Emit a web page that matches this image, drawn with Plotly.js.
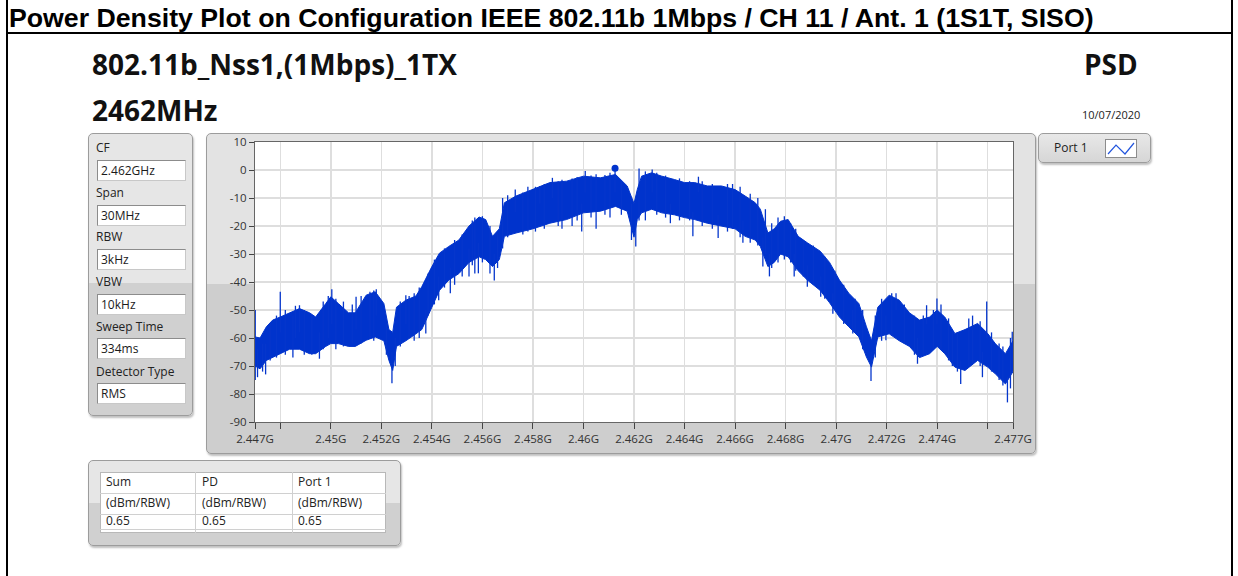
<!DOCTYPE html>
<html><head><meta charset="utf-8">
<script src="https://cdn.plot.ly/plotly-3.0.1.min.js"></script>
<style>
body{margin:0;width:1238px;height:576px;position:relative;overflow:hidden;background:#fff;font-family:"Open Sans",sans-serif;color:#1a1a1a;}
.a{position:absolute;}
.frame{position:absolute;border:1px solid #9c9c9c;border-radius:5px;box-shadow:1px 2px 2px rgba(0,0,0,0.25);}
.lbl{position:absolute;left:96px;font-size:12px;line-height:14px;color:#222;}
.box{position:absolute;left:97px;background:#fff;border:1px solid #8c8c8c;border-right-color:#c8c8c8;border-bottom-color:#c8c8c8;font-size:12px;line-height:19px;padding-left:3px;box-sizing:border-box;width:89px;height:21px;}
.cell{position:absolute;font-size:12px;line-height:14px;color:#222;}
.hl{position:absolute;height:1px;background:#d0d0d0;}
.vl{position:absolute;width:1px;background:#d0d0d0;}
.big{position:absolute;font-family:"Open Sans",sans-serif;font-weight:700;font-size:28px;line-height:32px;color:#111;white-space:nowrap;}
</style></head><body>
<!-- outer page border -->
<div class="a" style="left:6px;top:0;width:2px;height:576px;background:#000"></div>
<div class="a" style="left:1231px;top:0;width:2px;height:576px;background:#000"></div>
<div class="a" style="left:6px;top:32px;width:1227px;height:2px;background:#000"></div>
<div class="a" style="left:9px;top:4px;font-family:'Liberation Sans',Arial,sans-serif;font-weight:700;font-size:26.7px;line-height:28px;color:#000;white-space:nowrap">Power Density Plot on Configuration IEEE 802.11b 1Mbps / CH 11 / Ant. 1 (1S1T, SISO)</div>

<div class="big" style="left:92px;top:48px">802.11b_Nss1,(1Mbps)_1TX</div>
<div class="big" style="left:92px;top:94px">2462MHz</div>
<div class="big" style="left:1084px;top:48px">PSD</div>
<div class="a" style="left:1082px;top:108px;font-size:11px;line-height:14px;color:#222">10/07/2020</div>

<!-- left settings panel -->
<div class="frame" style="left:88px;top:133px;width:103px;height:281px;background:linear-gradient(#e6e6e6 0%,#e6e6e6 53%,#d0d0d0 53%,#d0d0d0 100%)"></div>
<div class="lbl" style="top:141px">CF</div>
<div class="box" style="top:160px">2.462GHz</div>
<div class="lbl" style="top:186px">Span</div>
<div class="box" style="top:205px">30MHz</div>
<div class="lbl" style="top:230px">RBW</div>
<div class="box" style="top:249px">3kHz</div>
<div class="lbl" style="top:275px">VBW</div>
<div class="box" style="top:294px">10kHz</div>
<div class="lbl" style="top:320px">Sweep Time</div>
<div class="box" style="top:338px">334ms</div>
<div class="lbl" style="top:365px">Detector Type</div>
<div class="box" style="top:383px">RMS</div>

<!-- chart frame -->
<div class="frame" style="left:206px;top:133px;width:828px;height:319px;background:linear-gradient(#e3e3e3 0%,#e3e3e3 47%,#cecece 47%,#cecece 100%)"></div>

<!-- legend -->
<div class="frame" style="left:1038px;top:133px;width:111px;height:28px;background:linear-gradient(#e8e8e8,#d6d6d6)"></div>
<div class="a" style="left:1054px;top:141px;font-size:12px;line-height:14px;color:#222">Port 1</div>
<div class="a" style="left:1105px;top:139px;width:30px;height:17px;background:#fff;border:1px solid #8c8c8c">
<svg width="30" height="17"><polyline points="2,14 10,5 19,14 28,3" fill="none" stroke="#2255dd" stroke-width="1.2"/></svg></div>

<!-- bottom table -->
<div class="frame" style="left:88px;top:460px;width:311px;height:84px;background:linear-gradient(#e6e6e6 0%,#e6e6e6 50%,#d0d0d0 50%,#d0d0d0 100%)"></div>
<div class="a" style="left:100px;top:472px;width:286px;height:61px;background:#fff;border:1px solid #b8b8b8;box-sizing:border-box"></div>
<div class="hl" style="left:100px;top:493px;width:286px"></div>
<div class="hl" style="left:100px;top:514px;width:286px"></div>
<div class="hl" style="left:100px;top:529px;width:286px"></div>
<div class="vl" style="left:195px;top:472px;height:61px"></div>
<div class="vl" style="left:292px;top:472px;height:61px"></div>
<div class="cell" style="left:106px;top:475px">Sum</div>
<div class="cell" style="left:202px;top:475px">PD</div>
<div class="cell" style="left:298px;top:475px">Port 1</div>
<div class="cell" style="left:106px;top:496px">(dBm/RBW)</div>
<div class="cell" style="left:202px;top:496px">(dBm/RBW)</div>
<div class="cell" style="left:298px;top:496px">(dBm/RBW)</div>
<div class="cell" style="left:106px;top:514px">0.65</div>
<div class="cell" style="left:202px;top:514px">0.65</div>
<div class="cell" style="left:298px;top:514px">0.65</div>

<div id="plot" class="a" style="left:0;top:0;width:1238px;height:576px"></div>
<script>
// Frequency in MHz, band envelope (dBm/RBW)
const freqMHz = [2447.00,2447.20,2447.45,2447.70,2448.00,2448.37,2448.76,2449.16,2449.40,2449.80,
 2450.00,2450.30,2450.70,2450.97,2451.40,2451.76,2452.10,2452.30,2452.45,2452.60,
 2452.97,2453.37,2453.60,2454.00,2454.30,2454.67,2455.07,2455.47,2455.87,2456.13,
 2456.40,2456.67,2456.87,2457.33,2458.00,2458.67,2459.33,2460.00,2460.67,2461.27,
 2461.73,2462.00,2462.13,2462.30,2462.70,2463.10,2463.60,2464.00,2464.40,2464.90,
 2465.46,2466.00,2466.40,2466.80,2467.00,2467.30,2467.55,2467.80,2468.10,2468.50,
 2468.86,2469.37,2469.74,2470.13,2470.50,2470.90,2471.20,2471.40,2471.65,2472.10,
 2472.50,2472.90,2473.30,2473.70,2474.00,2474.30,2474.70,2475.10,2475.60,2476.00,
 2476.30,2476.70,2477.00];
const bandTop = [-59.6,-60,-56,-53.6,-52.5,-51,-49.5,-51,-52.5,-47.7,
 -45.3,-47.7,-51,-51,-44.7,-43.5,-47.7,-57,-58,-49,
 -46.5,-45,-41.7,-34.5,-29.7,-27.3,-25,-20,-16.8,-17.7,
 -23.7,-21,-11.7,-9.3,-7,-4.5,-4,-2.2,-2.8,-1.6,
 -5.7,-12,-7,-2.2,-1,-2.2,-3.4,-4.5,-4.5,-5.7,
 -5.7,-7,-9.3,-11.7,-14,-22.5,-21,-18.3,-17.7,-23.7,
 -26,-29,-33,-39.3,-44,-47.7,-56,-61,-49,-44.7,
 -46.5,-51,-53.6,-52.5,-50,-52.5,-58.4,-57,-54.8,-58.4,
 -62,-65.6,-61];
const bandBottom = [-70,-71,-68,-67,-65.6,-64,-64,-65.6,-65.6,-63,
 -62,-62,-63,-63,-60.8,-59.6,-61,-68,-71.6,-63,
 -61,-58.5,-57,-49,-43,-39.3,-37,-33,-31,-32,
 -34.5,-32,-23.7,-22.5,-21,-19,-17.7,-15.3,-14.7,-13,
 -14.7,-24,-17.7,-15.3,-14,-15.3,-16,-17,-17.7,-19,
 -20,-21,-23.7,-25,-27.3,-34.5,-33,-30,-31,-36,
 -39.3,-43,-47.4,-52.5,-56,-59.6,-66.8,-70.4,-59.6,-58.5,
 -61,-63,-67,-65.6,-63,-65.6,-70.4,-71.6,-68,-70.4,
 -72.8,-76.4,-72];
// Individual noise spikes: frequency (MHz), low end, high end (dBm/RBW)
const spikeMHz = [2447.01,2447.10,2447.30,2447.42,2447.60,2447.85,2448.00,2448.20,2448.50,2448.60,
 2448.76,2448.95,2449.25,2449.55,2449.70,2449.90,2450.04,2450.20,2450.50,2450.85,
 2451.00,2451.20,2451.55,2451.70,2451.80,2452.20,2452.42,2452.55,2452.75,2452.97,
 2453.10,2453.30,2453.50,2453.76,2453.85,2454.10,2454.27,2454.50,2454.73,2454.90,
 2455.20,2455.47,2455.60,2455.70,2455.84,2456.00,2456.30,2456.47,2456.60,2456.80,
 2457.00,2457.30,2457.60,2457.80,2458.10,2458.27,2458.45,2458.77,2459.00,2459.15,
 2459.55,2459.75,2459.93,2460.07,2460.30,2460.50,2460.85,2461.05,2461.25,2461.50,
 2461.90,2462.07,2462.20,2462.45,2462.72,2462.90,2463.25,2463.44,2463.80,2464.20,
 2464.33,2464.55,2464.70,2465.10,2465.33,2465.70,2465.90,2466.20,2466.31,2466.60,
 2466.90,2467.10,2467.20,2467.36,2467.45,2467.70,2467.95,2468.20,2468.34,2468.40,
 2468.70,2468.86,2469.10,2469.39,2469.55,2469.87,2469.95,2470.30,2470.66,2470.75,
 2471.05,2471.38,2471.55,2471.80,2471.97,2472.20,2472.37,2472.70,2473.10,2473.22,
 2473.45,2473.58,2473.85,2473.99,2474.15,2474.45,2474.60,2474.80,2474.93,2475.25,
 2475.40,2475.70,2475.79,2475.96,2476.15,2476.45,2476.60,2476.78,2476.90,2476.97];
const spikeLo = [-75,-74,-72,-73,-68,-67,-58,-66,-67,-60,
 -58,-66,-66,-67.4,-64,-60,-55,-64,-63,-62,
 -57,-62,-60,-61,-52,-66,-76.2,-70,-63,-55,
 -60,-61,-60,-58.4,-52,-48,-46.5,-42,-44,-41,
 -38,-38,-34,-37,-36.9,-33,-37,-39.5,-35,-28,
 -24,-15,-23,-22,-22,-12,-21,-10,-20,-21,
 -20,-18,-22,-8,-17,-21,-16,-17,-8,-16,
 -25,-27.3,-18,-18,-8,-16,-17,-19,-18,-18,
 -23.7,-8,-20,-21,-24.3,-22,-21,-24,-26,-26,
 -27,-34.5,-30,-38,-35,-33,-32,-33,-38,-36,
 -38,-41.7,-41,-45.3,-46,-51.3,-50,-55,-58.4,-58,
 -64,-75.4,-67,-61,-60.8,-59,-50,-62,-66,-69.2,
 -66,-55,-64,-55,-64,-68,-70,-72,-76.4,-70,
 -69,-70,-74,-60,-72,-75,-77,-83,-78,-68];
const spikeHi = [-50,-64,-62,-62,-55,-52,-43.5,-50,-52,-48.5,
 -48.3,-50,-52,-58,-47,-45,-42.6,-46,-47,-48,
 -45.3,-45,-43.5,-43,-42.6,-55,-65,-60,-47,-44.7,
 -45,-44,-42,-50,-37,-32,-38,-28,-35,-25,
 -23,-28,-18,-17,-26,-16.5,-20,-30,-23,-10,
 -9,-7,-8,-6,-6,-5.7,-5,-2.8,-4,-3.5,
 -3,-2.5,-12,-0.4,-2,-1.5,-1.8,-1,0.65,-4,
 -12,-18,0.5,-0.5,0.2,-1,-2,-12,-3,-4,
 -15,-2.4,-4,-5,-16,-5,-5,-6,-18,-8.5,
 -10,-24,-14,-30,-19,-17,-16.5,-19,-30,-21,
 -25,-34,-27,-38,-31,-44,-36,-41,-50,-46,
 -50,-65,-52,-46,-52,-44,-44,-48,-52,-60,
 -52,-48.3,-50,-45.9,-48,-53,-57,-58,-68,-53,
 -52,-54,-65,-47,-58,-62,-63,-74,-60,-57.8];
const peakMHz = [2461.25];
const peakVal = [0.65];
const yTickVals = [10,0,-10,-20,-30,-40,-50,-60,-70,-80,-90];
const yTickText = ["10","0","-10","-20","-30","-40","-50","-60","-70","-80","-90"];
const xTickVals = [2447,2448,2450,2452,2454,2456,2458,2460,2462,2464,2466,2468,2470,2472,2474,2476,2477];
const xTickText = ["2.447G","","2.45G","2.452G","2.454G","2.456G","2.458G","2.46G","2.462G","2.464G","2.466G","2.468G","2.47G","2.472G","2.474G","","2.477G"];

const blue = '#0033cc';
const sx = [], sy = [];
spikeMHz.forEach((f,i)=>{ sx.push(f,f,null); sy.push(spikeLo[i],spikeHi[i],null); });

const traces = [
 {x:freqMHz, y:bandBottom, mode:'lines', line:{color:blue,width:1}, hoverinfo:'skip', showlegend:false},
 {x:freqMHz, y:bandTop, mode:'lines', line:{color:blue,width:1}, fill:'tonexty', fillcolor:blue, hoverinfo:'skip', showlegend:false},
 {x:sx, y:sy, mode:'lines', line:{color:'#0536cc',width:1.3}, connectgaps:false, hoverinfo:'skip', showlegend:false},
 {x:peakMHz, y:peakVal, mode:'markers', marker:{color:blue,size:7}, showlegend:false}
];
const tickFont = {family:'Open Sans, sans-serif', size:11.5, color:'#333'};
const layout = {
 width:1238, height:576,
 margin:{l:255, r:225, t:142, b:154, pad:0},
 paper_bgcolor:'rgba(0,0,0,0)', plot_bgcolor:'#ffffff',
 showlegend:false,
 xaxis:{range:[2447,2477], tickmode:'array', tickvals:xTickVals, ticktext:xTickText,
   ticks:'outside', ticklen:6, tickcolor:'#444', tickwidth:1, showgrid:true, gridcolor:'#dedede', gridwidth:1.5,
   showline:true, linecolor:'#666', linewidth:1, mirror:true, zeroline:false, tickfont:tickFont, fixedrange:true},
 yaxis:{range:[-90,10], tickmode:'array', tickvals:yTickVals, ticktext:yTickText,
   ticks:'outside', ticklen:5, tickcolor:'#444', tickwidth:1, showgrid:true, gridcolor:'#dedede', gridwidth:1.5,
   showline:true, linecolor:'#666', linewidth:1, mirror:true, zeroline:false, tickfont:tickFont, fixedrange:true}
};
Plotly.newPlot('plot', traces, layout, {displayModeBar:false, staticPlot:true});
</script>
</body></html>
